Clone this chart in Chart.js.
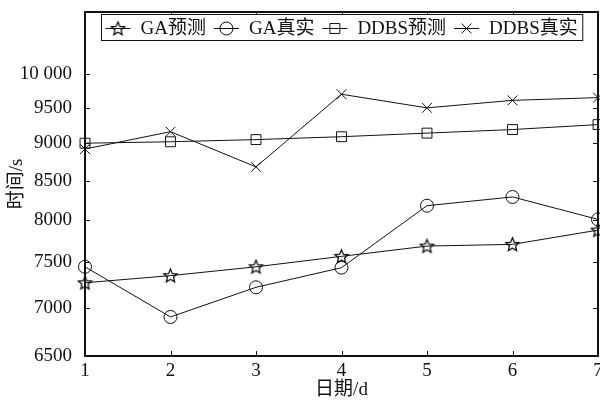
<!DOCTYPE html>
<html>
<head>
<meta charset="utf-8">
<script src="https://cdn.jsdelivr.net/npm/chart.js@4/dist/chart.umd.min.js"></script>
<style>
  html, body { margin: 0; padding: 0; background: #fff; }
  #wrap { width: 600px; height: 400px; }
</style>
</head>
<body>
<div id="wrap"><canvas id="c" width="600" height="400"></canvas></div>
<script>
// Days on the x axis
const days = ['1', '2', '3', '4', '5', '6', '7'];
// Running time in seconds
const gaPred   = [7270, 7350, 7450, 7570, 7690, 7710, 7880];
const gaReal   = [7450, 6900, 7220, 7440, 8180, 8290, 8010];
const ddbsPred = [9000, 9020, 9050, 9090, 9140, 9190, 9260];
const ddbsReal = [8920, 9160, 8680, 9700, 9500, 9610, 9650];
// Y axis tick values
const yTicks = [6500, 7000, 7500, 8000, 8500, 9000, 9500, 10000];
const seriesNames = ['GA预测', 'GA真实', 'DDBS预测', 'DDBS真实'];

const FONT = "'Liberation Serif', 'Times New Roman', 'Noto Sans CJK SC', serif";
const INK = '#111';

// Outlined five-pointed star used as a marker
function makeStar(outer, inner) {
  const size = Math.ceil(outer * 2 + 3);
  const cv = document.createElement('canvas');
  cv.width = size; cv.height = size;
  const g = cv.getContext('2d');
  const cx = size / 2, cy = size / 2 + 0.5;
  g.beginPath();
  for (let i = 0; i < 10; i++) {
    const r = i % 2 === 0 ? outer : inner;
    const a = -Math.PI / 2 + i * Math.PI / 5;
    const px = cx + r * Math.cos(a), py = cy + r * Math.sin(a);
    if (i === 0) g.moveTo(px, py); else g.lineTo(px, py);
  }
  g.closePath();
  g.lineWidth = 1.3;
  g.strokeStyle = INK;
  g.stroke();
  return cv;
}
const starMark = makeStar(7, 3.2);

function fmtTick(v) {
  return v >= 10000 ? String(v).replace(/(\d)(?=(\d{3})+$)/g, '$1 ') : String(v);
}

const markerStyles = [
  { pointStyle: starMark, pointRadius: 7 },
  { pointStyle: 'circle', pointRadius: 6.5 },
  { pointStyle: 'rect', pointRadius: 7 },
  { pointStyle: 'crossRot', pointRadius: 7 }
];

function makeDataset(label, values, idx) {
  return Object.assign({
    label: label,
    data: values,
    borderColor: INK,
    backgroundColor: 'rgba(0,0,0,0)',
    pointBorderColor: INK,
    pointBackgroundColor: 'rgba(0,0,0,0)',
    borderWidth: 1,
    pointBorderWidth: 1,
    tension: 0,
    clip: false
  }, markerStyles[idx]);
}

// Box frame with inward tick marks on all four sides, plus the boxed legend
const framePlugin = {
  id: 'frame',
  afterDatasetsDraw(chart) {
    const { ctx, chartArea: a, scales } = chart;
    const xs = scales.x, ys = scales.y;
    ctx.save();
    ctx.strokeStyle = INK;
    ctx.lineWidth = 1;
    const tl = 5;
    ctx.beginPath();
    ys.ticks.forEach((t) => {
      const py = Math.round(ys.getPixelForValue(t.value)) + 0.5;
      ctx.moveTo(a.left, py); ctx.lineTo(a.left + tl, py);
      ctx.moveTo(a.right, py); ctx.lineTo(a.right - tl, py);
    });
    xs.ticks.forEach((t, i) => {
      const px = Math.round(xs.getPixelForTick(i)) + 0.5;
      ctx.moveTo(px, a.bottom); ctx.lineTo(px, a.bottom - tl);
      ctx.moveTo(px, a.top); ctx.lineTo(px, a.top + tl);
    });
    ctx.stroke();
    ctx.lineWidth = 2;
    ctx.strokeRect(a.left, a.top, a.right - a.left, a.bottom - a.top);

    // legend
    ctx.font = '19px ' + FONT;
    ctx.textBaseline = 'middle';
    ctx.textAlign = 'left';
    const lineLen = 25, gapA = 10, gapB = 8, padL = 4, padR = 5;
    const widths = seriesNames.map(n => ctx.measureText(n).width);
    let total = padL + padR;
    widths.forEach((w, i) => { total += lineLen + gapA + w + (i < widths.length - 1 ? gapB : 0); });
    const boxTop = a.top + 2.5, boxH = 26;
    const boxLeft = Math.round((a.left + a.right) / 2 - total / 2) + 0.5;
    ctx.fillStyle = '#fff';
    ctx.fillRect(boxLeft, boxTop, total, boxH);
    ctx.lineWidth = 1;
    ctx.strokeRect(boxLeft, boxTop, total, boxH);
    const cy = Math.round(boxTop + boxH / 2) + 0.5;
    let x = boxLeft + padL;
    chart.data.datasets.forEach((ds, i) => {
      ctx.strokeStyle = INK;
      ctx.lineWidth = 1;
      ctx.beginPath();
      ctx.moveTo(x, cy);
      ctx.lineTo(x + lineLen, cy);
      ctx.stroke();
      ctx.fillStyle = 'rgba(0,0,0,0)';
      Chart.helpers.drawPoint(ctx, {
        pointStyle: ds.pointStyle,
        radius: ds.pointRadius,
        rotation: 0,
        borderWidth: 1
      }, x + lineLen / 2, cy);
      x += lineLen + gapA;
      ctx.fillStyle = INK;
      ctx.fillText(seriesNames[i], x, cy + 0.5);
      x += widths[i] + gapB;
    });
    ctx.restore();
  }
};

new Chart(document.getElementById('c'), {
  type: 'line',
  data: {
    labels: days,
    datasets: [
      makeDataset(seriesNames[0], gaPred, 0),
      makeDataset(seriesNames[1], gaReal, 1),
      makeDataset(seriesNames[2], ddbsPred, 2),
      makeDataset(seriesNames[3], ddbsReal, 3)
    ]
  },
  options: {
    responsive: false,
    animation: false,
    events: [],
    layout: { autoPadding: false, padding: { top: 12, right: 2, left: 0, bottom: 0 } },
    plugins: {
      legend: { display: false },
      tooltip: { enabled: false }
    },
    scales: {
      x: {
        type: 'category',
        offset: false,
        grid: { display: false },
        border: { display: false },
        ticks: {
          color: INK,
          font: { family: FONT, size: 19, lineHeight: 1 },
          padding: -2,
          maxRotation: 0,
          autoSkip: false
        },
        title: {
          display: true,
          text: '日期/d',
          color: INK,
          font: { family: FONT, size: 19, lineHeight: 1 },
          padding: { top: 0, bottom: 0 }
        },
        afterFit(scale) {
          scale.height = 44;
          scale.paddingLeft = 0;
          scale.paddingRight = 0;
        }
      },
      y: {
        type: 'logarithmic',
        min: 6500,
        max: 11000,
        bounds: 'data',
        grid: { display: false },
        border: { display: false },
        afterBuildTicks(scale) {
          scale.ticks = yTicks.map(v => ({ value: v }));
        },
        ticks: {
          color: INK,
          font: { family: FONT, size: 19 },
          padding: 5,
          autoSkip: false,
          callback: (v) => fmtTick(v)
        },
        title: {
          display: true,
          text: '时间/s',
          color: INK,
          font: { family: FONT, size: 19, lineHeight: 1.2 },
          padding: { top: 6, bottom: 0 }
        },
        afterFit(scale) {
          scale.width = 85;
          scale.paddingTop = 0;
          scale.paddingBottom = 0;
        }
      }
    }
  },
  plugins: [framePlugin]
});
</script>
</body>
</html>
